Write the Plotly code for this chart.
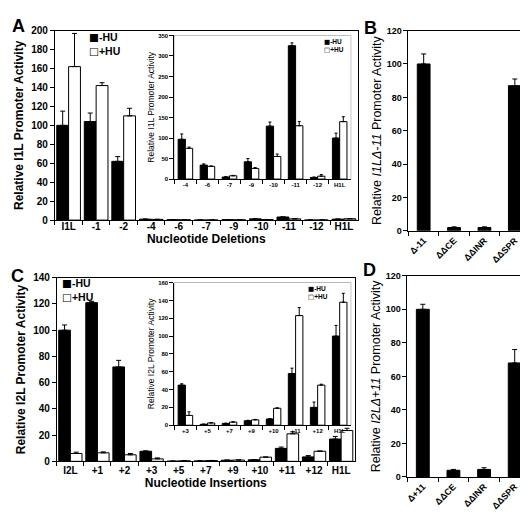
import plotly.graph_objects as go

W, H = 528, 516
FONT = "Liberation Sans, Arial, sans-serif"

# ---------------- data ----------------
# Panel A (main): nucleotide deletions
a_cats = ["I1L", "-1", "-2", "-4", "-6", "-7", "-9", "-10", "-11", "-12", "H1L"]
a_minus = [100, 104, 62, 0.97, 0.34, 0.05, 0.42, 1.29, 3.25, 0.04, 1.0]
a_minus_err = [15, 9, 5, 0.13, 0.03, 0.01, 0.08, 0.1, 0.07, 0.01, 0.12]
a_plus = [162, 142, 110, 0.75, 0.31, 0.08, 0.26, 0.55, 1.3, 0.07, 1.4]
a_plus_err = [35, 3, 8, 0.03, 0.01, 0.01, 0.02, 0.06, 0.1, 0.04, 0.12]

# Panel A (inset)
ai_cats = ["-4", "-6", "-7", "-9", "-10", "-11", "-12", "H1L"]
ai_minus = [97, 34, 5, 42, 129, 325, 4, 100]
ai_minus_err = [13, 3, 1, 8, 10, 7, 1, 12]
ai_plus = [75, 31, 8, 26, 55, 130, 7, 140]
ai_plus_err = [3, 1, 1, 2, 6, 10, 4, 12]

# Panel B
b_cats = ["Δ-11", "ΔΔCE", "ΔΔINR", "ΔΔSPR"]
b_vals = [100, 2, 2, 87]
b_err = [6, 0.4, 0.4, 4]

# Panel C (main): nucleotide insertions
c_cats = ["I2L", "+1", "+2", "+3", "+5", "+7", "+9", "+10", "+11", "+12", "H1L"]
c_minus = [100, 121, 72, 7.7, 0.17, 0.34, 0.85, 1.2, 9.9, 3.4, 17]
c_minus_err = [4, 1, 5, 0.3, 0.02, 0.05, 0.1, 0.1, 1, 1, 2]
c_plus = [6, 6.5, 5, 1.9, 0.43, 0.6, 1.0, 3.2, 21, 7.7, 23.5]
c_plus_err = [1, 0.7, 1, 0.7, 0.1, 0.1, 0.1, 0.1, 1.5, 0.2, 1.7]

# Panel C (inset)
ci_cats = ["+3", "+5", "+7", "+9", "+10", "+11", "+12", "H1L"]
ci_minus = [45, 1, 2, 5, 7, 58, 20, 100]
ci_minus_err = [1.5, 0.3, 0.3, 0.5, 0.5, 6, 6, 12]
ci_plus = [11, 2.5, 3.5, 6, 19, 123, 45, 138]
ci_plus_err = [4, 0.5, 0.3, 0.5, 0.5, 9, 1, 10]

# Panel D
d_cats = ["Δ+11", "ΔΔCE", "ΔΔINR", "ΔΔSPR"]
d_vals = [100, 4, 4.5, 68]
d_err = [3, 0.5, 1, 8]

series_names = ["-HU", "+HU"]


# ---------------- helpers ----------------
def fx(px):
    return px / W


def fy(py):
    return 1 - py / H


def err(arr, w):
    return dict(type="data", array=arr, arrayminus=[0] * len(arr), symmetric=False,
                color="black", thickness=1, width=w)


fig = go.Figure()


def pair(cats, minus, minus_err, plus, plus_err, xa, ya, width, ew):
    fig.add_trace(go.Bar(x=cats, y=minus, name=series_names[0], xaxis=xa, yaxis=ya,
                         marker=dict(color="black", line=dict(color="black", width=1)),
                         width=width, offset=-width, error_y=err(minus_err, ew),
                         showlegend=False))
    fig.add_trace(go.Bar(x=cats, y=plus, name=series_names[1], xaxis=xa, yaxis=ya,
                         marker=dict(color="white", line=dict(color="black", width=1)),
                         width=width, offset=0, error_y=err(plus_err, ew),
                         showlegend=False))


def single(cats, vals, errs, xa, ya, width):
    fig.add_trace(go.Bar(x=cats, y=vals, name=series_names[0], xaxis=xa, yaxis=ya,
                         marker=dict(color="black", line=dict(color="black", width=1)),
                         width=width, offset=-width / 2, error_y=err(errs, 2.5),
                         showlegend=False))


pair(a_cats, a_minus, a_minus_err, a_plus, a_plus_err, "x", "y", 0.43, 2.5)
pair(ai_cats, ai_minus, ai_minus_err, ai_plus, ai_plus_err, "x2", "y2", 0.33, 1.5)
single(b_cats, b_vals, b_err, "x3", "y3", 0.42)
pair(c_cats, c_minus, c_minus_err, c_plus, c_plus_err, "x4", "y4", 0.43, 2.5)
pair(ci_cats, ci_minus, ci_minus_err, ci_plus, ci_plus_err, "x5", "y5", 0.33, 1.5)
single(d_cats, d_vals, d_err, "x6", "y6", 0.42)


def f(size, bold=True):
    d = dict(family=FONT, size=size, color="black")
    if bold:
        d["weight"] = "bold"
    return d


def xax(x0, x1, anchor, cats, tsize, mirror, title=None, tangle=0, tstand=0, lstand=0):
    d = dict(domain=[fx(x0), fx(x1)], anchor=anchor, type="category",
             categoryorder="array", categoryarray=cats,
             showline=True, linecolor="black", linewidth=1, mirror=mirror,
             ticks="outside", tickson="boundaries", ticklen=4, tickcolor="black",
             tickwidth=1, tickfont=f(tsize), tickangle=tangle, ticklabelstandoff=lstand,
             showgrid=False, zeroline=False, fixedrange=True)
    if title:
        d["title"] = dict(text=title, font=f(12), standoff=tstand)
    return d


def yax(y0, y1, anchor, rng, dtick, tsize, mirror, title, tfont, tstand):
    return dict(domain=[fy(y1), fy(y0)], anchor=anchor, range=rng, dtick=dtick,
                showline=True, linecolor="black", linewidth=1, mirror=mirror,
                ticks="outside", ticklen=4, tickcolor="black", tickwidth=1,
                tickfont=f(tsize), showgrid=False, zeroline=False, fixedrange=True,
                title=dict(text=title, font=tfont, standoff=tstand))


fig.update_layout(
    width=W, height=H, margin=dict(l=0, r=0, t=0, b=0),
    paper_bgcolor="white", plot_bgcolor="white", showlegend=False,
    barmode="overlay",
    xaxis=xax(45, 349, "y", a_cats, 10, True, "Nucleotide Deletions", tstand=0, lstand=-3),
    yaxis=yax(17, 211, "x", [0, 200], 20, 10, True,
              "Relative I1L Promoter Activity", f(12), 4),
    xaxis2=xax(165, 342, "y2", ai_cats, 6, False),
    yaxis2=yax(22, 169, "x2", [0, 350], 50, 6, False,
               "Relative I1L Promoter Activity", f(8.5, False), 2),
    xaxis3=xax(400, 522, "y3", b_cats, 9, True, tangle=-45),
    yaxis3=yax(17, 222, "x3", [0, 120], 20, 9, True,
               "Relative <i>I1LΔ-11</i> Promoter Activity", f(12.5, False), 2),
    xaxis4=xax(47, 346, "y4", c_cats, 10, True, "Nucleotide Insertions", tstand=2),
    yaxis4=yax(270, 458, "x4", [0, 140], 20, 10, True,
               "Relative I2L Promoter Activity", f(12), 4),
    xaxis5=xax(165, 342, "y5", ci_cats, 6, False),
    yaxis5=yax(275, 421, "x5", [0, 160], 20, 6, False,
               "Relative I2L Promoter Activity", f(8.5, False), 2),
    xaxis6=xax(399, 522, "y6", d_cats, 9, True, tangle=-45),
    yaxis6=yax(268, 474, "x6", [0, 120], 20, 9, True,
               "Relative <i>I2LΔ+11</i> Promoter Activity", f(12.5, False), 2),
)

# gray frames of the insets
for n in ("2", "5"):
    fig.add_shape(type="rect", xref="x%s domain" % n, yref="y%s domain" % n,
                  x0=0, x1=1, y0=0, y1=1, line=dict(color="#7f7f7f", width=1),
                  fillcolor="rgba(0,0,0,0)", layer="below")

ann = []
# panel letters
for txt, px, py in [("A", 9, 12), ("B", 362, 14), ("C", 8, 268), ("D", 361, 262)]:
    ann.append(dict(text=txt, x=fx(px), y=fy(py), xref="paper", yref="paper",
                    showarrow=False, xanchor="center", yanchor="middle", font=f(18)))
# legends: key glyph + series name, two lines per legend
GL = '<span style="font-family:DejaVu Sans">%s</span>%s'
for px, pyc, size in [(77, 30.5, 10.5), (50, 283, 10.5), (313, 32.5, 6.5), (297, 286, 6.5)]:
    txt = GL % ("■", series_names[0]) + "<br>" + GL % ("□", series_names[1])
    ann.append(dict(text=txt, x=fx(px), y=fy(pyc), xref="paper", yref="paper",
                    showarrow=False, xanchor="left", yanchor="middle", align="left",
                    font=f(size)))
fig.update_layout(annotations=ann)

fig.write_html("out.html")
